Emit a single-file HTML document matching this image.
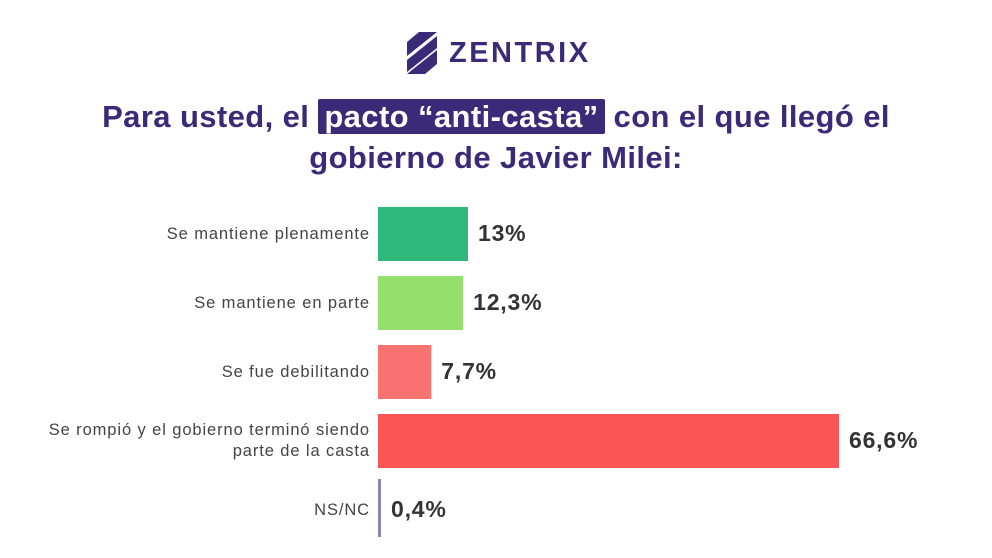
<!DOCTYPE html>
<html><head><meta charset="utf-8"><style>
body{margin:0;width:992px;height:558px;background:#fff;font-family:"Liberation Sans",sans-serif;overflow:hidden;position:relative}
.title{position:absolute;left:0;width:992px;text-align:center;color:#3a2a78;font-weight:bold;font-size:31px;letter-spacing:0.4px;line-height:41px;top:96px}
.hl{background:#3a2a78;color:#fff;padding:0 6px;border-radius:2px}
.logo{position:absolute;left:403px;top:30px;display:flex;align-items:center}
.logo span{font-size:29px;font-weight:bold;color:#3a2a78;letter-spacing:2.5px;margin-left:8px}
.lab{position:absolute;right:622px;text-align:right;color:#444;font-size:16.5px;letter-spacing:0.9px;line-height:21px;white-space:nowrap}
.val{position:absolute;font-weight:bold;color:#333;font-size:23px;letter-spacing:0.8px}
</style></head><body>
<div class="logo">
<svg width="38" height="46" viewBox="0 0 38 46"><g fill="#3a2a78"><polygon points="4,12 16,2 34,2 4,26"/><polygon points="4,30 34,6 34,18 4,42"/><polygon points="4,44 34,20 34,34 22,44"/></g></svg>
<span>ZENTRIX</span></div>
<div class="title">Para usted, el <span class="hl">pacto “anti-casta”</span> con el que llegó el<br>gobierno de Javier Milei:</div>
<svg id="c" width="992" height="558" style="position:absolute;left:0;top:0"></svg>
<script>
const categories=["Se mantiene plenamente","Se mantiene en parte","Se fue debilitando","Se rompió y el gobierno terminó siendo|parte de la casta","NS/NC"];
const values=[13,12.3,7.7,66.6,0.4];
const valueLabels=["13%","12,3%","7,7%","66,6%","0,4%"];
const colors=["#2fb87a","#95e06d","#f87271","#fa5656","#8a89ad"];
const svg=document.getElementById('c');
const x0=378,scale=461/66.6;
function xs(v){return v*scale;}
function yb(i){return 207+i*69;}
categories.forEach((c,i)=>{
 const w=i==4?3:xs(values[i]);
 const r=document.createElementNS('http://www.w3.org/2000/svg','rect');
 r.setAttribute('x',x0);r.setAttribute('y',i==4?yb(i)-4:yb(i));r.setAttribute('width',w);r.setAttribute('height',i==4?58:54);r.setAttribute('fill',colors[i]);
 
 
 svg.appendChild(r);
 const lab=document.createElement('div');lab.className='lab';
 
 
 const parts=c.split('|');lab.innerHTML=parts.join('<br>');
 lab.style.top=(yb(i)+27-parts.length*10.5)+'px';document.body.appendChild(lab);
 const v=document.createElement('div');v.className='val';
 
 
 v.textContent=valueLabels[i];v.style.left=(x0+Math.max(w,3)+(i==4?10:10))+'px';v.style.top=(yb(i)+13)+'px';
 document.body.appendChild(v);
});
</script>
</body></html>
